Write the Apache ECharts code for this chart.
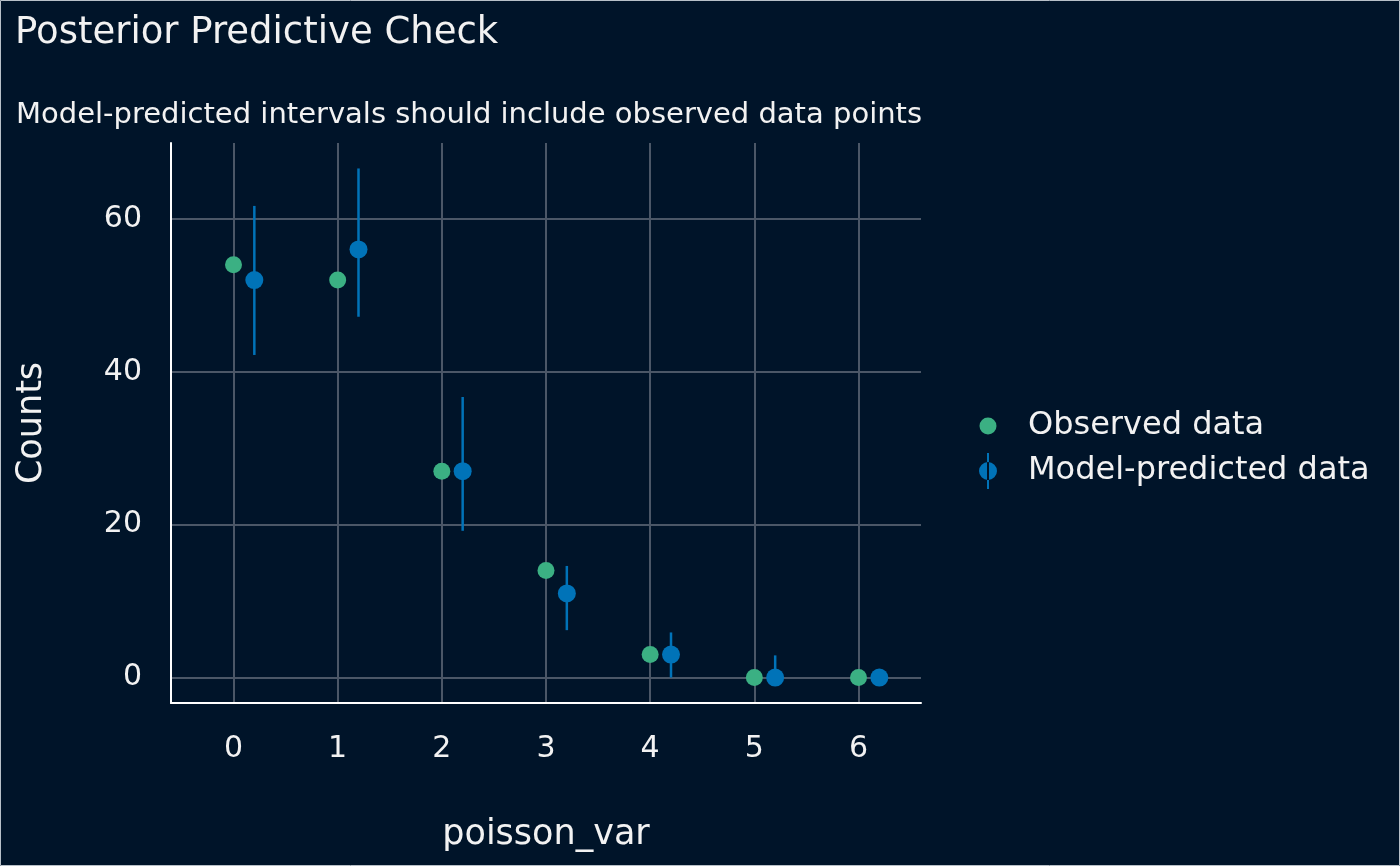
<!DOCTYPE html>
<html>
<head>
<meta charset="utf-8">
<title>Posterior Predictive Check</title>
<script src="https://cdn.jsdelivr.net/npm/echarts@6.0.0/dist/echarts.min.js"></script>
<style>
  html, body { margin: 0; padding: 0; background: #001429; }
  #chart { width: 1400px; height: 866px; }
</style>
</head>
<body>
<div id="chart"></div>
<script>
;(function() {
  'use strict'

  //------------------- Data START -------------------//
  var xValues = [0, 1, 2, 3, 4, 5, 6]
  var observed = [54, 52, 27, 14, 3, 0, 0]
  var predicted = [52, 56, 27, 11, 3, 0, 0]
  var predictedLow = [42.2, 47.2, 19.2, 6.2, 0, 0, 0]
  var predictedHigh = [61.7, 66.6, 36.7, 14.6, 5.9, 2.9, 0]

  var xTicks = [0, 1, 2, 3, 4, 5, 6]
  var yTicks = [0, 20, 40, 60]
  //------------------- Data END -------------------//

  var bg = '#001429'
  var green = '#3bb083'
  var blue = '#0073b8'
  var gridColor = '#4b5767'
  var textColor = '#f2f2f2'
  var font = 'DejaVu Sans'
  var dodge = 0.2 // model points sit right of the observed ones

  var observedData = xValues.map((x, i) => [x, observed[i]])
  var predictedData = xValues.map((x, i) => [x + dodge, predicted[i]])
  var intervalData = xValues.map((x, i) => [x + dodge, predictedLow[i], predictedHigh[i]])

  // legend icons share one 70x40 box so both map the same way
  var box = 'M0,0 M70,40 '
  var dotIcon = 'path://' + box + 'M26.5,20 a8.5,8.5 0 1,0 17,0 a8.5,8.5 0 1,0 -17,0 z'
  var barIcon = 'path://' + box + 'M34,2 h2 v36 h-2 z M26,20 a9,9 0 1,0 18,0 a9,9 0 1,0 -18,0 z'

  function renderInterval(params, api) {
    var top = api.coord([api.value(0), api.value(2)])
    var bottom = api.coord([api.value(0), api.value(1)])
    return {
      type: 'line',
      shape: { x1: top[0], y1: top[1], x2: bottom[0], y2: bottom[1] },
      style: { stroke: blue, lineWidth: 2.5 },
    }
  }

  var option = {
    backgroundColor: bg,
    animation: false,
    textStyle: { fontFamily: font, color: textColor },
    title: [
      {
        text: 'Posterior Predictive Check',
        left: 15,
        top: 15,
        padding: 0,
        textStyle: { fontFamily: font, fontSize: 37, fontWeight: 'normal', color: textColor },
      },
      {
        text: 'Model-predicted intervals should include observed data points',
        left: 16,
        top: 101,
        padding: 0,
        textStyle: { fontFamily: font, fontSize: 29, fontWeight: 'normal', color: textColor },
      },
    ],
    legend: {
      orient: 'vertical',
      left: 953,
      top: 406,
      padding: 0,
      itemWidth: 70,
      itemHeight: 40,
      itemGap: 5,
      textStyle: { fontFamily: font, fontSize: 32, color: textColor, padding: [5, 0, 0, 0] },
      data: [
        { name: 'Observed data', icon: dotIcon, itemStyle: { color: green } },
        { name: 'Model-predicted data', icon: barIcon, itemStyle: { color: blue } },
      ],
      selectedMode: false,
    },
    grid: { left: 171, right: 479, top: 143, bottom: 163 },
    xAxis: {
      type: 'value',
      min: -0.6,
      max: 6.6,
      name: 'poisson_var',
      nameLocation: 'middle',
      nameGap: 114,
      nameTextStyle: { fontFamily: font, fontSize: 35, color: textColor },
      axisLine: { show: true, onZero: false, lineStyle: { color: '#ffffff', width: 2 } },
      axisTick: { show: false, customValues: xTicks },
      axisLabel: { customValues: xTicks, margin: 31, fontFamily: font, fontSize: 30, color: textColor },
      splitLine: { show: true, lineStyle: { color: gridColor, width: 2 } },
    },
    yAxis: {
      type: 'value',
      min: -3.33,
      max: 69.93,
      name: 'Counts',
      nameLocation: 'middle',
      nameGap: 122,
      nameTextStyle: { fontFamily: font, fontSize: 35, color: textColor },
      axisLine: { show: true, onZero: false, lineStyle: { color: '#ffffff', width: 2 } },
      axisTick: { show: false, customValues: yTicks },
      axisLabel: {
        customValues: yTicks,
        margin: 29,
        padding: [8, 0, 0, 0],
        fontFamily: font,
        fontSize: 30,
        color: textColor,
      },
      splitLine: { show: true, lineStyle: { color: gridColor, width: 2 } },
    },
    graphic: [
      {
        type: 'rect',
        silent: true,
        z: 100,
        shape: { x: 0.5, y: 0.5, width: 1399, height: 865 },
        style: { fill: 'none', stroke: '#b8c0c8', lineWidth: 1 },
      },
    ],
    series: [
      {
        name: 'Observed data',
        type: 'scatter',
        symbolSize: 17,
        itemStyle: { color: green, opacity: 1 },
        data: observedData,
        z: 3,
      },
      {
        name: 'Model-predicted data',
        type: 'custom',
        renderItem: renderInterval,
        encode: { x: 0, y: [1, 2] },
        data: intervalData,
        z: 3,
      },
      {
        name: 'Model-predicted data',
        type: 'scatter',
        symbolSize: 18,
        itemStyle: { color: blue, opacity: 1 },
        data: predictedData,
        z: 4,
      },
    ],
  }

  var chart = echarts.init(document.getElementById('chart'))
  chart.setOption(option)
})()
</script>
</body>
</html>
